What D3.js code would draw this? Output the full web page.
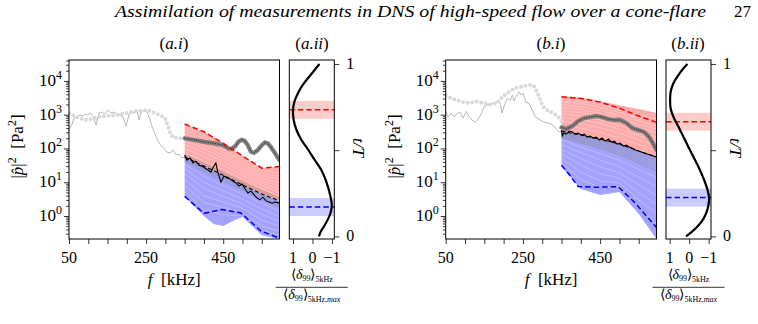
<!DOCTYPE html>
<html>
<head>
<meta charset="utf-8">
<script src="https://cdn.jsdelivr.net/npm/d3@7"></script>
</head>
<body style="margin:0">
<svg id="fig" width="758" height="324"></svg>
<script>
// ---------- data (f in kHz, |p|^2 in Pa^2) ----------
const nodes6 = [350, 400, 450, 500, 550, 596];
const nodes8 = [350, 400, 425, 450, 475, 500, 550, 596];

// panel (a.i)
const aGrayF = [50, 58, 63, 71, 79, 86, 92, 99, 104, 112, 120, 128, 136, 143, 151, 159, 167, 175, 182, 190, 198, 206, 213, 221, 226, 232, 237, 245, 252, 258, 265, 273, 281, 289, 296, 304, 312, 320, 328, 335, 343, 351];
const aGrayP = [350, 527, 793, 849, 973, 910, 1042, 973, 1115, 910, 492, 1115, 1194, 1042, 1368, 1115, 1194, 1042, 973, 849, 460, 1042, 1194, 1115, 1368, 692, 1194, 1368, 1194, 849, 460, 267, 165, 118, 103, 78, 73, 90, 64, 68, 52, 56];
const aLightF = [50, 78, 97, 130, 174, 216, 252, 286, 299, 307, 312, 320, 343];
const aLightP = [1100, 776, 692, 871, 977, 1230, 1380, 977, 794, 457, 288, 209, 199];
const aDarkF = [350, 377, 403, 429, 449, 464, 472, 482, 490, 498, 505, 513, 522, 530, 540, 550, 558, 566, 575, 585, 596];
const aDarkP = [199, 177, 155, 140, 126, 100, 95, 120, 160, 180, 170, 130, 80, 74, 90, 125, 150, 140, 105, 70, 45];
const aBlackF = [350, 356, 364, 372, 379, 387, 395, 403, 411, 418, 426, 431, 436, 444, 452, 460, 468, 475, 483, 491, 499, 507, 514, 522, 530, 538, 545, 553, 561, 569, 577, 584, 596];
const aBlackP = [64, 45, 52, 37, 42, 32, 30, 26, 23, 20, 30, 37, 20, 10.1, 15.3, 13.3, 12.4, 10.9, 9.5, 7.7, 8.8, 6.3, 4.8, 5.5, 4.2, 3.4, 3.0, 3.6, 2.8, 2.6, 2.4, 2.6, 2.4];
const aRedTop = [527, 312, 210, 142, 92, 60, 26, 29];
const aMid = [56, 30, 22, 16, 11.6, 8.3, 4.5, 2.8];
const aBlueLow = [3.7, 1.0, 0.58, 0.51, 0.71, 0.93, 0.27, 0.21];
const aBlueDashF = [350, 400, 445, 495, 548, 596];
const aBlueDashP = [3.8, 1.2, 1.55, 1.25, 0.36, 0.22];
const aEnsRed = [
    [430, 250, 115, 50, 22, 19],
    [350, 200, 95, 42, 19, 15],
    [280, 160, 78, 35, 16, 12],
    [220, 125, 63, 29, 13.5, 9.5],
    [170, 98, 51, 24, 11.5, 7.5],
    [130, 76, 41, 20, 9.5, 6],
    [100, 58, 32, 16, 8, 4.8],
    [75, 42, 24, 12.5, 6.5, 3.8]
];
const aEnsGray = [
    [66, 36, 19.5, 10.2, 5.6, 3.5],
    [60, 32, 17.5, 9.2, 5, 3.1],
    [52, 27, 14.5, 7.8, 4.2, 2.5],
    [47, 24, 13, 6.8, 3.7, 2.1],
    [42, 21, 11, 6, 3.2, 1.8]
];
const aEnsBlue = [
    [34, 15, 8, 4.5, 2.4, 1.4],
    [25, 10, 5.5, 3.2, 1.6, 0.95],
    [18, 6.5, 3.8, 2.3, 1.1, 0.7],
    [12, 4, 2.6, 1.7, 0.75, 0.5],
    [8, 2.5, 1.8, 1.3, 0.5, 0.36],
    [5.5, 1.5, 1.1, 1.0, 0.38, 0.27]
];

// panel (b.i)
const bGrayF = [50, 56, 64, 72, 79, 87, 95, 103, 110, 118, 127, 134, 142, 149, 157, 165, 175, 183, 191, 196, 203, 209, 217, 223, 227, 232, 240, 245, 250, 258, 266, 274, 283, 295, 305, 318, 326, 336, 344, 352];
const bGrayP = [1280, 850, 1110, 850, 1070, 1190, 790, 1240, 910, 690, 600, 740, 1040, 1670, 1920, 2000, 2200, 2450, 2200, 1110, 2050, 3000, 2700, 3800, 2520, 3450, 4700, 3800, 4350, 2350, 2140, 1370, 850, 690, 600, 550, 490, 390, 310, 330];
const bLightF = [50, 64, 79, 97, 113, 131, 149, 165, 183, 199, 217, 232, 248, 263, 274, 282, 289, 297, 305, 318, 331, 344, 352];
const bLightP = [3550, 3090, 2690, 2350, 2200, 2450, 2200, 2000, 2200, 3550, 5000, 6150, 6750, 7550, 7550, 6300, 4050, 2350, 1570, 1230, 1090, 790, 600];
const bDarkF = [350, 362, 378, 393, 409, 424, 440, 455, 471, 487, 502, 518, 533, 549, 564, 577, 588, 596];
const bDarkP = [420, 380, 460, 647, 793, 849, 910, 849, 741, 692, 692, 564, 402, 350, 306, 217, 135, 90];
const bBlackF = [350, 352, 356, 362, 370, 378, 385, 393, 401, 409, 416, 424, 432, 440, 448, 455, 463, 471, 479, 487, 494, 502, 510, 518, 525, 533, 541, 549, 557, 564, 572, 580, 588, 596];
const bBlackP = [350, 233, 286, 267, 327, 306, 267, 286, 249, 267, 217, 233, 203, 217, 177, 203, 165, 190, 155, 165, 135, 144, 118, 126, 110, 103, 90, 84, 78, 73, 68, 64, 60, 56];
const bRedTop = [3550, 3240, 2510, 1900, 1470, 1130];
const bRedDash = [3380, 3030, 2350, 1550, 910, 590];
const bMid = [327, 249, 190, 135, 84, 56];
const bBlueLow = [28, 6.3, 4.2, 5.1, 1.15, 0.21];
const bBlueDashF = [350, 367, 393, 437, 497, 541, 596];
const bBlueDashP = [32, 18.7, 7.5, 7.1, 7.4, 2.4, 0.46];
const bEnsRed = [
    [2900, 2600, 2000, 1400, 1000, 750],
    [2400, 2150, 1650, 1150, 800, 600],
    [1950, 1750, 1350, 930, 640, 470],
    [1600, 1420, 1090, 750, 510, 370],
    [1300, 1150, 880, 600, 400, 290],
    [1050, 920, 700, 480, 310, 220],
    [820, 720, 550, 370, 240, 165],
    [620, 540, 410, 280, 180, 120],
    [470, 400, 300, 205, 130, 85]
];
const bEnsGray = [
    [310, 235, 178, 125, 78, 50],
    [290, 215, 160, 110, 68, 42],
    [270, 195, 142, 96, 58, 35],
    [250, 178, 126, 84, 50, 30],
    [230, 160, 112, 74, 43, 25],
    [210, 145, 100, 65, 37, 21]
];
const bEnsBlue = [
    [180, 110, 70, 45, 24, 14],
    [130, 75, 45, 29, 14, 7.5],
    [95, 50, 28, 19, 8.5, 4],
    [70, 32, 18, 13, 5, 2.2],
    [50, 20, 11, 9.5, 3, 1.2],
    [38, 12, 7, 7.5, 1.8, 0.6]
];

// phase panels: normalised <delta99> vs t/T
const aPhaseV = [-0.33, -0.44, -0.70, -0.93, -0.99, -0.90, -0.70, -0.44, -0.10, 0.23, 0.58, 0.83, 0.97, 1.0, 0.92, 0.74, 0.49, 0.15, -0.19, -0.36];
const aPhaseT = [0, 0.031, 0.079, 0.137, 0.185, 0.243, 0.321, 0.388, 0.446, 0.504, 0.562, 0.620, 0.677, 0.735, 0.784, 0.832, 0.880, 0.929, 0.977, 1.0];
const bPhaseV = [0.16, -0.05, -0.40, -0.74, -0.95, -1.02, -0.95, -0.74, -0.48, -0.22, 0.04, 0.29, 0.55, 0.81, 0.95, 0.98, 0.95, 0.81, 0.55, 0.29, 0.09];
const bPhaseT = [0, 0.019, 0.054, 0.103, 0.161, 0.219, 0.267, 0.335, 0.403, 0.461, 0.519, 0.577, 0.636, 0.694, 0.742, 0.791, 0.839, 0.888, 0.936, 0.975, 1.0];
const aRedBand = [0.682, 0.734, 0.786];
const aBlueBand = [0.118, 0.170, 0.222];
const bRedBand = [0.613, 0.665, 0.717];
const bBlueBand = [0.173, 0.225, 0.277];

const fTicks = [50, 100, 150, 200, 250, 300, 350, 400, 450, 500, 550];
const fLabels = [50, 250, 450];
const pDecades = [1, 10, 100, 1000, 10000];
const phaseTicks = [1, 0, -1];
const tTicks = [0, 0.5, 1];

// ---------- drawing ----------
const svg = d3.select('#fig');
const top0 = 60, bot0 = 239;

// every label is a serif text node
function label(parent, x, y, size) {
    return parent.append('text')
        .attr('x', x).attr('y', y)
        .style('font-family', '"Liberation Serif"')
        .style('font-size', size + 'px');
}

label(svg, 115, 17, 17)
    .attr('textLength', 591).attr('lengthAdjust', 'spacingAndGlyphs')
    .style('font-style', 'italic')
    .text('Assimilation of measurements in DNS of high-speed flow over a cone-flare');
label(svg, 751, 17, 17).attr('text-anchor', 'end').text('27');

function panelTitle(x, letter, roman) {
    const t = label(svg, x, 49, 17).attr('text-anchor', 'middle');
    t.append('tspan').text('(');
    t.append('tspan').style('font-style', 'italic').text(letter + '.' + roman);
    t.append('tspan').text(')');
}

function drawSpectrum(id, x0, x1, d) {
    const x = d3.scaleLinear().domain([50, 596]).range([x0, x1]);
    const y = d3.scaleLog().domain([0.2085, 41500]).range([bot0, top0]);
    const g = svg.append('g');

    g.append('clipPath').attr('id', 'clip-' + id)
        .append('rect').attr('x', x0).attr('y', top0)
        .attr('width', x1 - x0).attr('height', bot0 - top0);
    const plot = g.append('g').attr('clip-path', `url(#clip-${id})`);

    const line = d3.line().x(p => x(p[0])).y(p => y(p[1]));
    const area = d3.area().x(p => x(p[0])).y0(p => y(p[1])).y1(p => y(p[2]));

    // envelopes of the two groups
    plot.append('path')
        .datum(d3.zip(d.fillF, d.mid, d.redTop))
        .attr('d', area).attr('fill', '#ff0000').attr('fill-opacity', 0.33);
    plot.append('path')
        .datum(d3.zip(d.fillF, d.blueLow, d.mid))
        .attr('d', area).attr('fill', '#0000ff').attr('fill-opacity', 0.36);

    // ensemble members
    const ens = (rows, color, op, w) => rows.forEach(r => {
        plot.append('path').datum(d3.zip(nodes6, r))
            .attr('d', line).attr('fill', 'none')
            .attr('stroke', color).attr('stroke-opacity', op).attr('stroke-width', w);
    });
    ens(d.ensRed, '#ffffff', 0.4, 0.7);
    ens(d.ensBlue, '#ffffff', 0.35, 0.7);
    ens(d.ensGray, '#8c8c8c', 0.75, 0.8);

    // upstream probe spectrum (thin) and DNS reference (circles)
    plot.append('path').datum(d3.zip(d.grayF, d.grayP))
        .attr('d', line).attr('fill', 'none')
        .attr('stroke', '#b8b8b8').attr('stroke-width', 1);
    plot.append('path').datum(d3.zip(d.lightF, d.lightP))
        .attr('d', line).attr('fill', 'none')
        .attr('stroke', '#d9d9d9').attr('stroke-width', 4)
        .attr('stroke-linecap', 'round').attr('stroke-dasharray', '0 4.6');
    plot.append('path').datum(d3.zip(d.darkF, d.darkP))
        .attr('d', line).attr('fill', 'none')
        .attr('stroke', '#7a7a7a').attr('stroke-opacity', 0.9).attr('stroke-width', 4.4)
        .attr('stroke-linecap', 'round');
    plot.append('path').datum(d3.zip(d.darkF, d.darkP))
        .attr('d', line).attr('fill', 'none')
        .attr('stroke', '#444').attr('stroke-width', 1.6)
        .attr('stroke-linecap', 'round').attr('stroke-dasharray', '0 2.4');

    // extreme members
    plot.append('path').datum(d3.zip(d.redDashF, d.redDash))
        .attr('d', line).attr('fill', 'none')
        .attr('stroke', '#ff0000').attr('stroke-width', 1.5).attr('stroke-dasharray', '5.5 3');
    plot.append('path').datum(d3.zip(d.blueDashF, d.blueDashP))
        .attr('d', line).attr('fill', 'none')
        .attr('stroke', '#0000ff').attr('stroke-width', 1.5).attr('stroke-dasharray', '5.5 3');

    // mean and measurement
    plot.append('path').datum(d3.zip(d.midF, d.midP))
        .attr('d', line).attr('fill', 'none')
        .attr('stroke', '#000').attr('stroke-width', 1.1).attr('stroke-dasharray', '4 2.5');
    plot.append('path').datum(d3.zip(d.blackF, d.blackP))
        .attr('d', line).attr('fill', 'none')
        .attr('stroke', '#000').attr('stroke-width', 1.1);

    // axes
    const minor = [];
    [0.1, 1, 10, 100, 1000, 10000].forEach(dec => {
        for (let k = 2; k <= 9; k++) {
            const v = dec * k;
            if (v > 0.2085 && v < 41500) minor.push(v);
        }
    });
    const ya = g.append('g').attr('transform', `translate(${x0},0)`)
        .call(d3.axisLeft(y).tickValues(minor).tickSize(2.8).tickFormat(''));
    ya.select('.domain').remove();
    const yb = g.append('g').attr('transform', `translate(${x0},0)`)
        .call(d3.axisLeft(y).tickValues(pDecades).tickSize(5).tickFormat(''));
    yb.select('.domain').remove();
    const xa = g.append('g').attr('transform', `translate(0,${bot0})`)
        .call(d3.axisBottom(x).tickValues(fTicks).tickSize(5).tickFormat(''));
    xa.select('.domain').remove();
    g.selectAll('.tick line').attr('stroke-width', 0.8);
    g.selectAll('.tick text').remove();

    pDecades.forEach(v => {
        const t = label(g, x0 - 7, y(v) + 5, 17).attr('text-anchor', 'end');
        t.append('tspan').text('10');
        t.append('tspan').attr('dy', -7).style('font-size', '12px').text(Math.round(Math.log10(v)));
    });
    fLabels.forEach(v => {
        label(g, x(v), 263, 16).attr('text-anchor', 'middle').text(v);
    });

    g.append('rect').attr('x', x0).attr('y', top0)
        .attr('width', x1 - x0).attr('height', bot0 - top0)
        .attr('fill', 'none').attr('stroke', '#000').attr('stroke-width', 1);

    // labels
    const xl = label(g, (x0 + x1) / 2, 285, 17).attr('text-anchor', 'middle');
    xl.append('tspan').style('font-style', 'italic').text('f');
    xl.append('tspan').text('\u2002[kHz]');

    const yl = label(g, 0, 0, 17)
        .attr('transform', `translate(${x0 - 46},${(top0 + bot0) / 2 - 3}) rotate(-90)`)
        .attr('text-anchor', 'middle');
    yl.append('tspan').text('|');
    yl.append('tspan').style('font-style', 'italic').text('p\u0302');
    yl.append('tspan').text('|');
    yl.append('tspan').attr('dy', -7).style('font-size', '12px').text('2');
    yl.append('tspan').attr('dy', 7).text('\u2002[Pa');
    yl.append('tspan').attr('dy', -7).style('font-size', '12px').text('2');
    yl.append('tspan').attr('dy', 7).text(']');
}

function drawPhase(x0, x1, vals, ts, red, blue) {
    const x = d3.scaleLinear().domain([1.19, -1.12]).range([x0, x1]);
    const y = d3.scaleLinear().domain([-0.015, 1.023]).range([bot0, top0]);
    const g = svg.append('g');

    [[red, '#ff0000'], [blue, '#0000ff']].forEach(([b, c]) => {
        g.append('rect').attr('x', x0).attr('width', x1 - x0)
            .attr('y', y(b[2])).attr('height', y(b[0]) - y(b[2]))
            .attr('fill', c).attr('fill-opacity', 0.2);
        g.append('line').attr('x1', x0).attr('x2', x1)
            .attr('y1', y(b[1])).attr('y2', y(b[1]))
            .attr('stroke', c).attr('stroke-width', 1.5).attr('stroke-dasharray', '5.5 3');
    });

    g.append('path').datum(d3.zip(vals, ts))
        .attr('d', d3.line().x(p => x(p[0])).y(p => y(p[1])).curve(d3.curveCatmullRom))
        .attr('fill', 'none').attr('stroke', '#000').attr('stroke-width', 2.2);

    const xa = g.append('g').attr('transform', `translate(0,${bot0})`)
        .call(d3.axisBottom(x).tickValues(phaseTicks).tickSize(5).tickFormat(''));
    xa.select('.domain').remove();
    const ya = g.append('g').attr('transform', `translate(${x1},0)`)
        .call(d3.axisRight(y).tickValues(tTicks).tickSize(5).tickFormat(''));
    ya.select('.domain').remove();
    g.selectAll('.tick line').attr('stroke-width', 0.8);
    g.selectAll('.tick text').remove();

    phaseTicks.forEach(v => {
        label(g, x(v), 263, 16).attr('text-anchor', 'middle')
            .text(v < 0 ? '\u2212' + Math.abs(v) : v);
    });
    [[1, '1'], [0, '0']].forEach(([v, s]) => {
        label(g, x1 + 16, y(v) + 5, 16).attr('text-anchor', 'middle').text(s);
    });

    g.append('rect').attr('x', x0).attr('y', top0)
        .attr('width', x1 - x0).attr('height', bot0 - top0)
        .attr('fill', 'none').attr('stroke', '#000').attr('stroke-width', 1);

    // t/T label
    label(g, 0, 0, 17)
        .attr('transform', `translate(${x1 + 19},${(top0 + bot0) / 2 - 2}) rotate(90)`)
        .attr('text-anchor', 'middle').style('font-style', 'italic')
        .text('t/T');

    // fraction label
    const cx = (x0 + x1) / 2;
    const frac = (yy, maxTag) => {
        const t = label(g, cx, yy, 14).attr('text-anchor', 'middle');
        t.append('tspan').text('\u27e8');
        t.append('tspan').style('font-style', 'italic').text('\u03b4');
        t.append('tspan').attr('dy', 2).style('font-size', '8px').text('99');
        t.append('tspan').attr('dy', -2).text('\u27e9');
        t.append('tspan').attr('dy', 3).style('font-size', '8px').text('5kHz');
        if (maxTag) {
            t.append('tspan').style('font-size', '8px').text(',');
            t.append('tspan').style('font-size', '8px').style('font-style', 'italic').text('max');
        }
    };
    frac(279, false);
    g.append('line').attr('x1', cx - 36).attr('x2', cx + 36)
        .attr('y1', 287.3).attr('y2', 287.3).attr('stroke', '#000').attr('stroke-width', 0.8);
    frac(299, true);
}

panelTitle(174, 'a', 'i');
panelTitle(312, 'a', 'ii');
panelTitle(551, 'b', 'i');
panelTitle(688, 'b', 'ii');

drawSpectrum('a', 69, 279.5, {
    fillF: nodes8, mid: aMid, redTop: aRedTop, blueLow: aBlueLow,
    ensRed: aEnsRed, ensBlue: aEnsBlue, ensGray: aEnsGray,
    grayF: aGrayF, grayP: aGrayP, lightF: aLightF, lightP: aLightP,
    darkF: aDarkF, darkP: aDarkP,
    redDashF: nodes8, redDash: aRedTop,
    blueDashF: aBlueDashF, blueDashP: aBlueDashP,
    midF: nodes8, midP: aMid, blackF: aBlackF, blackP: aBlackP
});
drawSpectrum('b', 445.7, 656.5, {
    fillF: nodes6, mid: bMid, redTop: bRedTop, blueLow: bBlueLow,
    ensRed: bEnsRed, ensBlue: bEnsBlue, ensGray: bEnsGray,
    grayF: bGrayF, grayP: bGrayP, lightF: bLightF, lightP: bLightP,
    darkF: bDarkF, darkP: bDarkP,
    redDashF: nodes6, redDash: bRedDash,
    blueDashF: bBlueDashF, blueDashP: bBlueDashP,
    midF: nodes6, midP: bMid, blackF: bBlackF, blackP: bBlackP
});
drawPhase(289.3, 334.3, aPhaseV, aPhaseT, aRedBand, aBlueBand);
drawPhase(666, 711, bPhaseV, bPhaseT, bRedBand, bBlueBand);
</script>
</body>
</html>
